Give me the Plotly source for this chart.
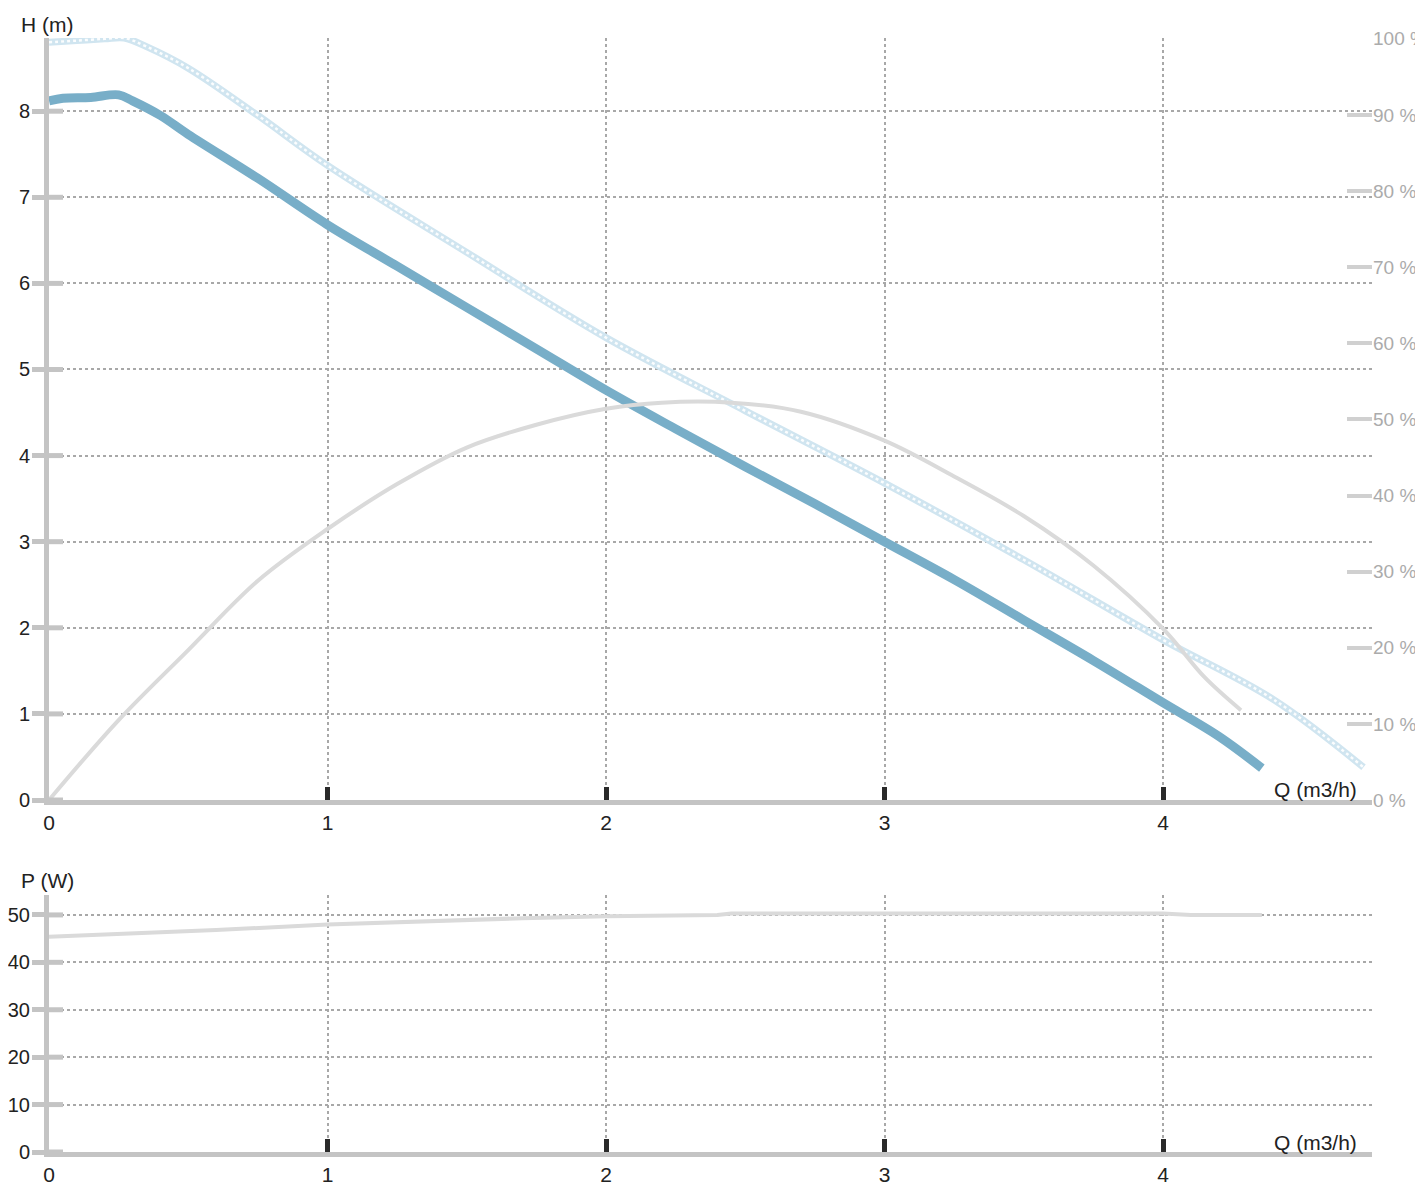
import plotly.graph_objects as go

# ---------------- data ----------------
Q_head = [0, 0.05, 0.15, 0.25, 0.3, 0.4, 0.5, 0.75, 1.0, 1.25, 1.5, 1.75, 2.0, 2.25,
          2.5, 2.75, 3.0, 3.25, 3.5, 3.75, 4.0, 4.2, 4.355]
H_head = [8.12, 8.15, 8.16, 8.19, 8.12, 7.95, 7.73, 7.22, 6.68, 6.2, 5.72, 5.24, 4.76, 4.31,
          3.87, 3.44, 3.0, 2.56, 2.09, 1.62, 1.13, 0.74, 0.37]

Q_max = [0, 0.1, 0.2, 0.27, 0.35, 0.5, 0.75, 1.0, 1.5, 2.0, 2.5, 3.0, 3.5, 4.0, 4.4, 4.72]
H_max = [8.8, 8.82, 8.84, 8.85, 8.75, 8.5, 7.95, 7.37, 6.36, 5.37, 4.52, 3.68, 2.79, 1.86, 1.16, 0.38]

Q_eff = [0, 0.25, 0.5, 0.75, 1.0, 1.25, 1.5, 1.75, 2.0, 2.2, 2.45, 2.7, 3.0, 3.25, 3.5,
         3.75, 4.0, 4.15, 4.28]
Eff = [0, 10.5, 19.7, 28.8, 35.6, 41.5, 46.3, 49.3, 51.4, 52.2, 52.2, 51.0, 47.2, 42.5, 37.3,
       30.8, 22.5, 16.1, 11.8]

Q_pow = [0, 0.3, 0.6, 1.0, 1.3, 1.7, 2.0, 2.4, 2.45, 3.0, 4.0, 4.1, 4.355]
P_pow = [45.4, 46.0, 46.8, 48.0, 48.6, 49.3, 49.7, 50.0, 50.3, 50.3, 50.3, 50.0, 50.0]

Q_ticks = [0, 1, 2, 3, 4]
H_ticks = [0, 1, 2, 3, 4, 5, 6, 7, 8]
Eff_ticks = [0, 10, 20, 30, 40, 50, 60, 70, 80, 90, 100]
P_ticks = [0, 10, 20, 30, 40, 50]

# ---------------- figure ----------------
OFF = 8                      # default page body margin
W, Hh = 1423 - OFF, 1191 - OFF
ml, mt = 49 - OFF, 38 - OFF
mr = W - (1372 - OFF)
mb = Hh - (1152 - OFF)
pw, ph = W - ml - mr, Hh - mt - mb

def px_y(py):               # reference pixel -> paper fraction
    return (Hh - mb - (py - OFF)) / ph

def px_x(pxv):
    return (pxv - OFF - ml) / pw

FONT = "Liberation Sans, Arial, sans-serif"
GRID = "#a8a8a8"
AXIS = "#c4c4c4"

fig = go.Figure()

fig.add_trace(go.Scatter(x=Q_eff, y=Eff, mode="lines", yaxis="y2", xaxis="x",
                         line=dict(color="#dadada", width=4, shape="spline"), hoverinfo="skip"))
# pale "chain of rings" curve: light band with white holes on top
fig.add_trace(go.Scatter(x=Q_max, y=H_max, mode="lines", xaxis="x", yaxis="y",
                         line=dict(color="rgb(208,229,240)", width=7, shape="spline"),
                         hoverinfo="skip"))
fig.add_trace(go.Scatter(x=Q_max, y=H_max, mode="lines", xaxis="x", yaxis="y",
                         line=dict(color="rgba(255,255,255,0.9)", width=2.5, dash="3px,3px",
                                   shape="spline"), hoverinfo="skip"))
fig.add_trace(go.Scatter(x=Q_head, y=H_head, mode="lines", xaxis="x", yaxis="y",
                         line=dict(color="#78aec8", width=9, shape="spline"), hoverinfo="skip"))
fig.add_trace(go.Scatter(x=Q_pow, y=P_pow, mode="lines", xaxis="x2", yaxis="y3",
                         line=dict(color="#dadada", width=4), hoverinfo="skip"))

xr = [0, pw / 278.5]
top_bottom = px_y(800)
bot_top = px_y(895)

TICKFONT = dict(family=FONT, size=21, color="#222")
YTICKFONT = dict(family=FONT, size=20, color="#222")
common_x = dict(range=xr, tickvals=Q_ticks, showgrid=True, gridcolor=GRID, gridwidth=2,
                griddash="dot", zeroline=False, showline=True, linecolor=AXIS, linewidth=5,
                ticks="inside", ticklen=13, tickwidth=5, tickcolor="#2a2a2a",
                tickfont=TICKFONT, fixedrange=True, automargin=False)
common_y = dict(showgrid=True, gridcolor=GRID, gridwidth=2, griddash="dot", zeroline=False,
                showline=True, linecolor=AXIS, linewidth=5, ticks="outside", ticklen=12,
                tickwidth=5, tickcolor=AXIS, tickfont=YTICKFONT, fixedrange=True,
                automargin=False, ticklabelstandoff=-2)

fig.update_layout(
    width=W, height=Hh, margin=dict(l=ml, r=mr, t=mt, b=mb, autoexpand=False),
    paper_bgcolor="white", plot_bgcolor="white", showlegend=False,
    xaxis=dict(domain=[0, 1], anchor="y", **common_x),
    yaxis=dict(domain=[top_bottom, 1], anchor="x", range=[0, 8.85], tickvals=H_ticks, **common_y),
    yaxis2=dict(overlaying="y", side="right", anchor="x", range=[0, 100.1], tickvals=Eff_ticks,
                ticktext=[f"{v} %" for v in Eff_ticks], showgrid=False, zeroline=False,
                showline=False, ticks="inside", ticklen=25, tickwidth=4, tickcolor="#d0d0d0",
                tickfont=dict(family=FONT, size=19, color="#ababab"), fixedrange=True,
                automargin=False),
    xaxis2=dict(domain=[0, 1], anchor="y3", **common_x),
    yaxis3=dict(domain=[0, bot_top], anchor="x2", range=[0, 54.2], tickvals=P_ticks, **common_y),
)

# inner half of the y tick bars
shapes = []
inner = 14 / pw
for t in H_ticks:
    shapes.append(dict(type="line", xref="x domain", yref="y", x0=0, x1=inner, y0=t, y1=t,
                       line=dict(color=AXIS, width=5), layer="above"))
for t in P_ticks:
    shapes.append(dict(type="line", xref="x2 domain", yref="y3", x0=0, x1=inner, y0=t, y1=t,
                       line=dict(color=AXIS, width=5), layer="above"))
fig.update_layout(shapes=shapes)

ann = [
    dict(text="H (m)", x=px_x(19), y=px_y(24), xanchor="left", yanchor="middle"),
    dict(text="P (W)", x=px_x(19), y=px_y(880), xanchor="left", yanchor="middle"),
    dict(text="Q (m3/h)", x=px_x(1359), y=px_y(790), xanchor="right", yanchor="middle"),
    dict(text="Q (m3/h)", x=px_x(1359), y=px_y(1142), xanchor="right", yanchor="middle"),
]
for a in ann:
    a.update(xref="paper", yref="paper", showarrow=False,
             font=dict(family=FONT, size=21, color="#222"))
fig.update_layout(annotations=ann)

fig.write_html("out.html")
